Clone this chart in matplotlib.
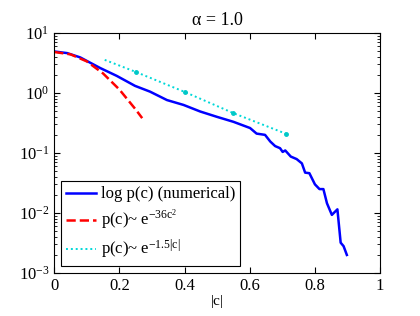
import matplotlib
matplotlib.use("Agg")
import matplotlib.pyplot as plt
import numpy as np

plt.rcParams["font.family"] = ["Liberation Serif", "DejaVu Serif"]
plt.rcParams["mathtext.fontset"] = "custom"
plt.rcParams["mathtext.rm"] = "Liberation Serif"
plt.rcParams["mathtext.it"] = "Liberation Serif"

# numerical distribution
c_num = [0.0, 0.04, 0.08, 0.141, 0.192, 0.248, 0.294, 0.346, 0.397, 0.448, 0.499,
         0.55, 0.601, 0.621, 0.647, 0.663, 0.678, 0.693, 0.701, 0.709, 0.726, 0.744,
         0.76, 0.77, 0.783, 0.80, 0.814, 0.826, 0.837, 0.852, 0.869, 0.879, 0.888, 0.898]
p_num = [4.9, 4.6, 3.9, 2.6, 1.92, 1.31, 1.05, 0.76, 0.63, 0.49, 0.40,
         0.33, 0.26, 0.21, 0.20, 0.155, 0.13, 0.12, 0.104, 0.11, 0.087, 0.079,
         0.067, 0.047, 0.046, 0.030, 0.025, 0.025, 0.0145, 0.0093, 0.0115, 0.0032, 0.0028, 0.002]

# gaussian fit
c_gauss = [0.0, 0.05, 0.1, 0.15, 0.2, 0.25, 0.27]
p_gauss = [4.8, 4.39, 3.35, 2.11, 1.14, 0.53, 0.38]

# exponential fit
c_exp = [0.155, 0.25, 0.4, 0.55, 0.71]
p_exp = [3.55, 2.24, 1.04, 0.46, 0.21]
c_exp_mark = [0.25, 0.4, 0.55, 0.71]
p_exp_mark = [2.24, 1.04, 0.46, 0.21]

fig = plt.figure(figsize=(4.2, 3.16), dpi=100)
ax = fig.add_axes([0.129, 0.136, 0.776, 0.760])

ax.semilogy(c_num, p_num, color="#0000ff", lw=1.8, label="log p(c) (numerical)")
ax.semilogy(c_gauss, p_gauss, color="#ff0000", ls="--", lw=1.8,
            label=r"p(c)~ e$^{\mathrm{-36c}^{2}}$")
ax.semilogy(c_exp, p_exp, color="#00d8d8", ls=(0, (1, 1.5)), lw=1.4,
            label=r"p(c)~ e$^{\mathrm{-1.5|c|}}$")
ax.plot(c_exp_mark, p_exp_mark, "o", color="#00c8c8", ms=2.5)

ax.set_xlim(0, 1)
ax.set_ylim(1e-3, 10)
ax.set_xticks([0, 0.2, 0.4, 0.6, 0.8, 1])
ax.set_xticklabels(["0", "0.2", "0.4", "0.6", "0.8", "1"])
ax.tick_params(which="both", direction="in", top=True, right=True, labelsize=12)
ax.tick_params(which="major", length=4)
ax.tick_params(which="minor", length=2)
ax.set_xlabel("|c|", fontsize=11, labelpad=1)
ax.set_title("\u03b1 = 1.0", fontsize=13)

leg = ax.legend(loc="lower left", fontsize=12, handlelength=1.8, borderaxespad=0.4,
                fancybox=False, framealpha=1, handletextpad=0.3, labelspacing=0.35,
                borderpad=0.3)
leg.get_frame().set_edgecolor("black")
leg.get_frame().set_linewidth(0.8)

fig.savefig("out.png", dpi=100)
